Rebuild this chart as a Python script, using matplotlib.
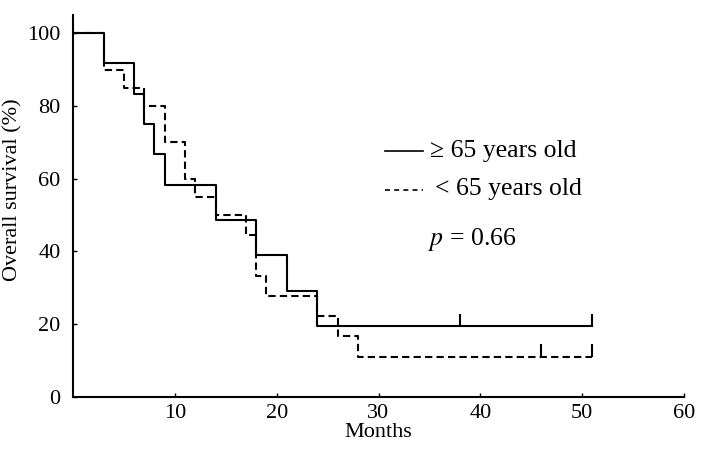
import matplotlib
matplotlib.use("Agg")
import matplotlib.pyplot as plt

plt.rcParams['font.family'] = ['Liberation Serif', 'DejaVu Serif']
plt.rcParams['mathtext.fontset'] = 'stix'

# >= 65 years old
old_t = [0, 3, 6, 7, 8, 9, 14, 18, 21, 24, 51]
old_s = [100, 91.7, 83.3, 75.0, 66.7, 58.3, 48.6, 38.9, 29.2, 19.4, 19.4]
old_cens = [38, 51]

# < 65 years old
young_t = [0, 3, 5, 7, 9, 11, 12, 14, 17, 18, 19, 24, 26, 28, 51]
young_s = [100, 90, 85, 80, 70, 60, 55, 50, 44.4, 33.3, 27.8, 22.2, 16.7, 11.1, 11.1]
young_cens = [46, 51]

xticks = [10, 20, 30, 40, 50, 60]
yticks = [0, 20, 40, 60, 80, 100]

fig = plt.figure(figsize=(7.08, 4.5), dpi=100)
ax = fig.add_axes([73/708, 1 - 397/450, 611/708, 382/450])

dash = (0, (3.5, 2))
ax.step(old_t, old_s, where='post', color='black', lw=1.5)
ax.step(young_t, young_s, where='post', color='black', lw=1.5, linestyle=dash)
ax.vlines(old_cens, old_s[-1], old_s[-1] + 3.5, color='black', lw=1.5)
ax.vlines(young_cens, young_s[-1], young_s[-1] + 3.5, color='black', lw=1.5)

# legend drawn by hand
ax.plot([30.6, 34.4], [67.6, 67.6], color='black', lw=1.2)
ax.plot([30.6, 34.4], [56.9, 56.9], color='black', lw=1.2, linestyle=(0, (3, 2.5)))
ax.text(35.1, 67.6, '≥ 65 years old', fontsize=18.5, va='center', ha='left')
ax.text(35.5, 57.2, '< 65 years old', fontsize=18.5, va='center', ha='left')
ax.text(34.9, 43.2, r'$p$ = 0.66', fontsize=18.5, va='center', ha='left')

ax.set_xlim(0, 60)
ax.set_ylim(0, 105)
ax.set_xticks(xticks)
ax.set_yticks(yticks)
ax.tick_params(direction='in', length=3, width=1, labelsize=16)
ax.tick_params(axis='y', pad=9)
ax.tick_params(axis='x', pad=5)
for s in ['top', 'right']:
    ax.spines[s].set_visible(False)
for s in ['left', 'bottom']:
    ax.spines[s].set_linewidth(1.5)

ax.set_xlabel('Months', fontsize=16, labelpad=0)
ax.set_ylabel('Overall survival (%)', fontsize=16)
ax.yaxis.set_label_coords(-0.083, 0.543)

fig.savefig('out.png', dpi=100)
